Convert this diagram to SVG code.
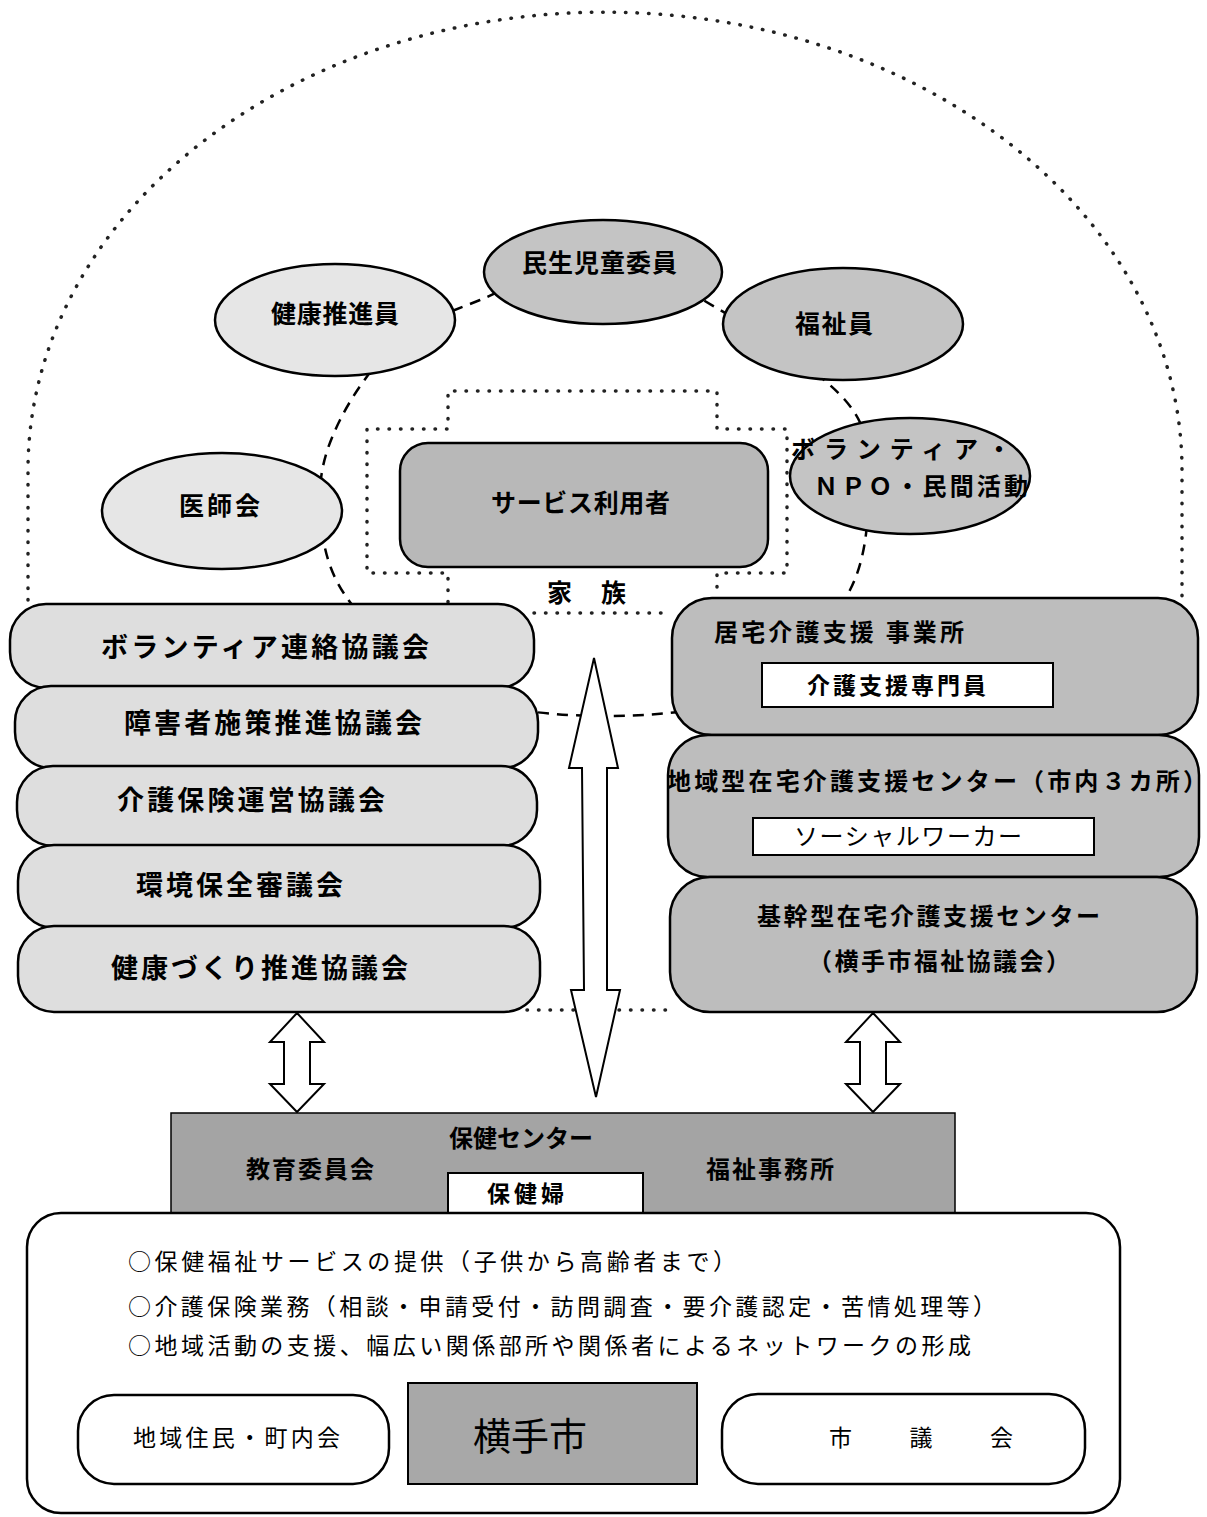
<svg xmlns="http://www.w3.org/2000/svg" width="1207" height="1517" viewBox="0 0 1207 1517">
<style>
.dot{fill:none;stroke:#222;stroke-width:3.5;stroke-dasharray:0.5 11;stroke-linecap:round}
.ring{fill:none;stroke:#000;stroke-width:2.5;stroke-dasharray:11 8}
.arrow{fill:#fff;stroke:#000;stroke-width:2}
.e1{fill:#e6e6e6;stroke:#000;stroke-width:2.5}
.e2{fill:#c4c4c4;stroke:#000;stroke-width:2.5}
.b0{fill:#b8b8b8;stroke:#000;stroke-width:2.5}
.b1{fill:#dedede;stroke:#000;stroke-width:2.5}
.b2{fill:#bdbdbd;stroke:#000;stroke-width:2.5}
.bar{fill:#a4a4a4;stroke:#000;stroke-width:1.5}
.w{fill:#fff;stroke:#000;stroke-width:2}
.wb{fill:#fff;stroke:#000;stroke-width:2.5}
.t{font-family:'Noto Sans CJK JP','Noto Sans CJK SC',sans-serif;font-weight:bold;fill:#000}
.n{font-family:'Noto Sans CJK JP','Noto Sans CJK SC',sans-serif;font-weight:normal;fill:#000}
</style>
<rect x="0" y="0" width="1207" height="1517" fill="#fff"/>

<g id="connectors">
  <path class="dot" d="M28,600 L28,470 A577,458 0 0 1 1182,470 L1182,598"/>
  <path class="ring" d="M600,258 C640,259.7 679.2,286.3 720,310 C760.8,333.7 820.3,371.7 845,400 C869.7,428.3 867.2,448.3 868,480 C868.8,511.7 868,555 850,590 C832,625 800.8,669 760,690 C719.2,711 656.7,716 605,716 C553.3,716 493.3,710.2 450,690 C406.7,669.8 366.7,626.7 345,595 C323.3,563.3 320.8,529.2 320,500 C319.2,470.8 326.7,446.7 340,420 C353.3,393.3 376.7,360 400,340 C423.3,320 446.7,313.7 480,300 C513.3,286.3 560,256.3 600,258 Z"/>
  <path class="dot" d="M534,613 L672,613"/>
  <path class="dot" d="M527,1010 L670,1010"/>
  <polygon class="arrow" points="594,658 618,768 607,768 607,990 620,990 596,1097 571,990 584,990 582,768 569,768"/>
  <polygon class="arrow" points="297,1013 324,1042 310,1042 310,1084 324,1084 297,1112 270,1084 284,1084 284,1042 270,1042"/>
  <polygon class="arrow" points="873,1013 900,1042 886,1042 886,1084 900,1084 873,1112 846,1084 860,1084 860,1042 846,1042"/>
</g>

<g id="family">
  <path class="dot" d="M448,602 L448,573 L367,573 L367,429 L448,429 L448,391 L717,391 L717,429 L787,429 L787,573 L717,573 L717,598"/>
  <text class="t" x="547" y="602" font-size="25" textLength="79" lengthAdjust="spacing">家　族</text>
</g>

<g id="minsei">
  <ellipse class="e2" cx="603" cy="272" rx="119" ry="52"/>
  <text class="t" x="522" y="272" font-size="25" textLength="155" lengthAdjust="spacing">民生児童委員</text>
</g>
<g id="kenko-suishin">
  <ellipse class="e1" cx="335" cy="320" rx="120" ry="56"/>
  <text class="t" x="271" y="323" font-size="25" textLength="128" lengthAdjust="spacing">健康推進員</text>
</g>
<g id="fukushi-in">
  <ellipse class="e2" cx="843" cy="324" rx="120" ry="56"/>
  <text class="t" x="795" y="333" font-size="25" textLength="78" lengthAdjust="spacing">福祉員</text>
</g>
<g id="ishikai">
  <ellipse class="e1" cx="222" cy="511" rx="120" ry="58"/>
  <text class="t" x="179" y="515" font-size="25" textLength="81" lengthAdjust="spacing">医師会</text>
</g>
<g id="volunteer-npo">
  <ellipse class="e2" cx="910" cy="476" rx="120" ry="58"/>
  <text class="t" x="791" y="458" font-size="24" textLength="220" lengthAdjust="spacing">ボランティア・</text>
  <text class="t" x="814" y="495" font-size="24" textLength="214" lengthAdjust="spacing">ＮＰＯ・民間活動</text>
</g>
<g id="service-user">
  <rect class="b0" x="400" y="443" width="368" height="124" rx="28"/>
  <text class="t" x="491" y="512" font-size="25" textLength="179" lengthAdjust="spacing">サービス利用者</text>
</g>

<g id="left-stack">
  <g id="volunteer-council">
    <rect class="b1" x="10" y="604" width="524" height="84" rx="36"/>
    <text class="t" x="101" y="657" font-size="27" textLength="328" lengthAdjust="spacing">ボランティア連絡協議会</text>
  </g>
  <g id="shogai-council">
    <rect class="b1" x="15" y="686" width="523" height="82" rx="36"/>
    <text class="t" x="124" y="733" font-size="27" textLength="298" lengthAdjust="spacing">障害者施策推進協議会</text>
  </g>
  <g id="kaigo-council">
    <rect class="b1" x="17" y="766" width="520" height="80" rx="36"/>
    <text class="t" x="117" y="810" font-size="27" textLength="268" lengthAdjust="spacing">介護保険運営協議会</text>
  </g>
  <g id="kankyo-council">
    <rect class="b1" x="18" y="845" width="522" height="83" rx="36"/>
    <text class="t" x="136" y="895" font-size="27" textLength="207" lengthAdjust="spacing">環境保全審議会</text>
  </g>
  <g id="kenkozukuri-council">
    <rect class="b1" x="18" y="926" width="522" height="86" rx="36"/>
    <text class="t" x="111" y="978" font-size="27" textLength="297" lengthAdjust="spacing">健康づくり推進協議会</text>
  </g>
</g>

<g id="right-stack">
  <g id="kyotaku">
    <rect class="b2" x="672" y="598" width="526" height="137" rx="40"/>
    <text class="t" x="714" y="641" font-size="24" textLength="250" lengthAdjust="spacing">居宅介護支援 事業所</text>
    <rect class="w" x="762" y="663" width="291" height="44"/>
    <text class="t" x="807" y="694" font-size="23" textLength="179" lengthAdjust="spacing">介護支援専門員</text>
  </g>
  <g id="chiiki-center">
    <rect class="b2" x="668" y="735" width="531" height="142" rx="40"/>
    <text class="t" x="667" y="790" font-size="24" textLength="540" lengthAdjust="spacing">地域型在宅介護支援センター（市内３カ所）</text>
    <rect class="w" x="753" y="818" width="341" height="37"/>
    <text class="n" x="794" y="845" font-size="24" textLength="228" lengthAdjust="spacing">ソーシャルワーカー</text>
  </g>
  <g id="kikan-center">
    <rect class="b2" x="670" y="877" width="527" height="135" rx="40"/>
    <text class="t" x="757" y="925" font-size="24" textLength="343" lengthAdjust="spacing">基幹型在宅介護支援センター</text>
    <text class="t" x="808" y="970" font-size="24" textLength="262" lengthAdjust="spacing">（横手市福祉協議会）</text>
  </g>
</g>

<g id="hoken-center">
  <rect class="bar" x="171" y="1113" width="784" height="100"/>
  <text class="t" x="449" y="1147" font-size="24" textLength="144" lengthAdjust="spacing">保健センター</text>
  <text class="t" x="246" y="1178" font-size="24" textLength="128" lengthAdjust="spacing">教育委員会</text>
  <text class="t" x="706" y="1178" font-size="24" textLength="128" lengthAdjust="spacing">福祉事務所</text>
  <rect class="w" x="448" y="1173" width="195" height="40"/>
  <text class="t" x="487" y="1202" font-size="23" textLength="77" lengthAdjust="spacing">保健婦</text>
</g>

<g id="yokote-city">
  <rect class="wb" x="27" y="1213" width="1093" height="300" rx="34"/>
  <text class="n" x="128" y="1270" font-size="23" textLength="608" lengthAdjust="spacing">○保健福祉サービスの提供（子供から高齢者まで）</text>
  <text class="n" x="128" y="1315" font-size="23" textLength="868" lengthAdjust="spacing">○介護保険業務（相談・申請受付・訪問調査・要介護認定・苦情処理等）</text>
  <text class="n" x="128" y="1354" font-size="23" textLength="843" lengthAdjust="spacing">○地域活動の支援、幅広い関係部所や関係者によるネットワークの形成</text>
  <g id="jumin">
    <rect class="wb" x="78" y="1395" width="311" height="89" rx="36"/>
    <text class="n" x="133" y="1446" font-size="23" textLength="207" lengthAdjust="spacing">地域住民・町内会</text>
  </g>
  <g id="yokote">
    <rect fill="#a8a8a8" stroke="#000" stroke-width="2" x="408" y="1383" width="289" height="101"/>
    <text class="n" x="473" y="1450" font-size="38" textLength="114" lengthAdjust="spacing">横手市</text>
  </g>
  <g id="gikai">
    <rect class="wb" x="722" y="1394" width="363" height="90" rx="36"/>
    <text class="n" x="829" y="1446" font-size="23" textLength="184" lengthAdjust="spacing">市　議　会</text>
  </g>
</g>
</svg>
